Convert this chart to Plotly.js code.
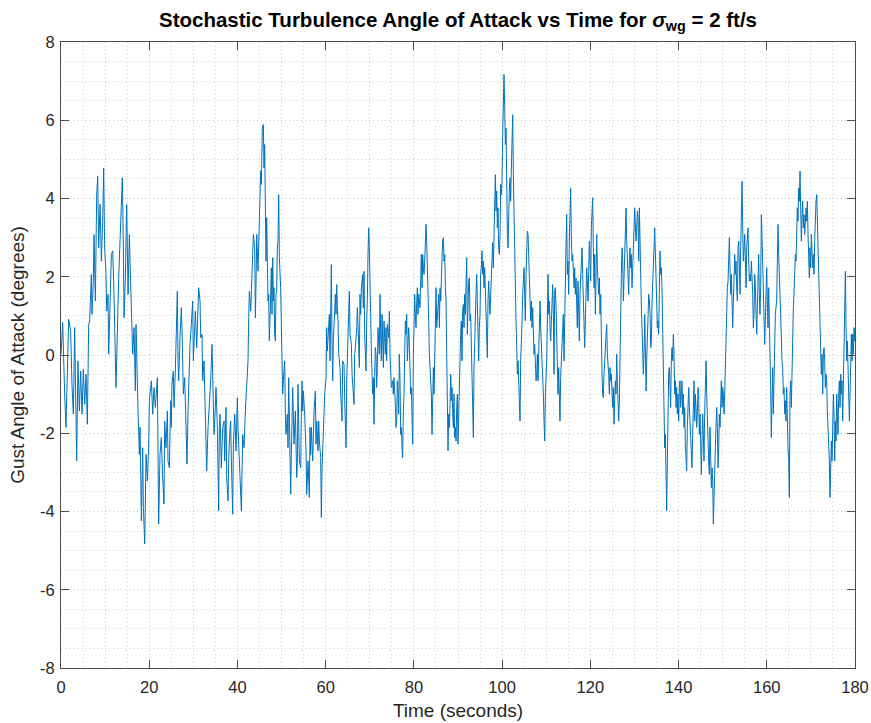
<!DOCTYPE html>
<html>
<head>
<meta charset="utf-8">
<script src="https://cdn.plot.ly/plotly-3.0.1.min.js"></script>
<style>html,body{margin:0;padding:0;background:#fff;}#chart{width:871px;height:723px;}</style>
</head>
<body>
<div id="chart"></div>
<script>
// Time (seconds) and gust angle of attack (degrees), in 8 segments
const t1 = [0.00,0.38,0.83,1.13,1.74,2.19,2.49,2.80,3.10,3.40,
3.55,3.85,4.16,4.46,4.76,5.06,5.37,5.67,5.97,6.27,
6.50,6.88,7.03,7.33,7.48,7.79,8.09,8.32,8.54,8.85,
9.15,9.45,9.68,9.90,10.20,10.36,10.66,10.81,11.11,11.42,
11.72,12.02,12.47,12.78,13.08,13.38,13.91,14.14,14.29,14.59,
14.89,15.20,15.50,15.65,15.95,16.25,16.56,16.86,17.01,17.31,
17.46,17.77,17.92,18.22,18.52,18.67,18.98,19.28,19.58,19.88,
20.03,20.49,20.79,21.09,21.39,21.85];
const a1 = [0.02,0.83,-1.00,-1.85,0.91,0.61,-0.75,-1.51,0.70,-1.69,
-2.71,-0.15,-1.43,-0.41,-1.51,-0.37,-1.26,-0.49,-1.77,0.78,
0.87,2.06,1.04,1.89,3.08,1.38,4.10,4.57,2.74,3.85,
2.40,3.42,4.78,2.74,2.06,1.12,1.55,0.02,1.72,2.57,
2.66,1.55,-0.83,1.12,1.97,2.91,4.53,2.74,0.95,1.97,
3.85,1.55,3.08,2.40,1.29,0.02,0.70,-0.92,0.78,-1.00,
-1.43,-2.54,-1.85,-4.24,-2.37,-3.90,-4.83,-2.54,-3.22,-2.28,
-1.17,-0.66,-1.51,-0.83,-1.34,-0.58];

const t2 = [22.14,22.44,22.75,23.05,23.35,23.50,23.80,24.11,24.26,24.56,
24.86,25.01,25.16,25.47,25.62,25.92,26.22,26.37,26.53,26.68,
26.98,27.28,27.43,27.74,28.04,28.34,28.57,28.79,28.95,29.10,
29.25,29.55,29.85,30.00,30.15,30.46,30.76,30.91,31.21,31.52,
31.67,31.97,32.12,32.42,32.73,33.03,33.33,33.63,33.93,34.24,
34.54,34.69,34.99,35.14,35.45,35.75,35.90,36.05,36.35,36.66,
36.96,37.11,37.41,37.56,37.87,38.02,38.32,38.47,38.62,38.92,
39.08,39.38,39.68,39.98,40.13,40.44,40.59,40.89,41.19,41.49,
41.80,42.10,42.40,42.55,42.70,43.01,43.31,43.61,43.91,44.07,
44.22,44.37];
const a2 = [-4.32,-2.54,-2.11,-3.13,-3.81,-1.69,-2.37,-1.43,-2.71,-2.88,
-1.17,-1.85,-0.75,-0.41,-1.34,-0.41,0.70,1.63,-0.15,-0.66,
0.44,1.21,0.70,-1.00,-0.58,-2.37,-2.79,-1.43,-0.83,-0.15,
0.27,0.78,1.38,-0.15,0.44,1.12,0.19,0.87,1.72,1.38,
0.44,0.53,-0.66,-0.15,-1.85,-2.96,-1.85,-1.34,-0.66,0.27,
-1.00,-2.03,-1.34,-0.83,-1.85,-3.98,-1.85,-1.51,-2.88,-1.85,
-1.69,-2.71,-1.34,-3.13,-3.73,-2.62,-1.85,-1.69,-2.71,-4.07,
-2.28,-1.51,-2.45,-1.09,-1.85,-2.71,-3.56,-3.98,-2.03,-2.37,
-1.43,-0.66,-0.15,0.95,1.63,1.12,1.89,3.08,2.74,0.95,
1.89,3.08];

const t3 = [44.66,44.89,45.11,45.26,45.42,45.64,45.87,46.02,46.17,46.32,
46.47,46.63,46.78,46.93,47.08,47.23,47.53,47.68,47.84,47.99,
48.14,48.29,48.44,48.59,48.74,48.89,49.04,49.20,49.35,49.50,
49.80,49.95,50.10,50.25,50.41,50.71,50.86,51.01,51.31,51.46,
51.62,51.77,51.92,52.07,52.22,52.52,52.67,52.82,53.13,53.43,
53.58,53.73,54.03,54.34,54.49,54.64,54.79,54.94,55.24,55.55,
55.70,56.00,56.30,56.45,56.60,56.76,57.06,57.36,57.66,57.81,
57.97,58.27,58.42,58.57,58.87,59.02,59.18,59.48,59.78,60.08,
60.23,60.38,60.54,60.84,60.99,61.14,61.29,61.44,61.59,61.75,
61.90,62.20,62.35,62.50,62.65,62.80,62.96,63.26,63.41,63.71,
63.86,64.16,64.32,64.62,64.77,64.92,65.22,65.37,65.53,65.83,
65.98,66.28,66.43,66.58,66.74,67.04,67.19];
const a3 = [2.14,3.08,4.02,4.70,4.36,5.80,5.89,4.78,5.38,3.93,
2.40,3.51,2.57,1.38,1.55,0.36,1.55,2.23,1.04,2.49,
1.38,1.72,0.53,0.36,1.55,1.63,2.74,2.91,4.10,2.49,
1.72,0.87,0.02,-1.00,-0.66,-0.15,-1.51,-2.03,-1.51,-2.37,
-0.58,-1.85,-2.71,-3.56,-2.54,-0.83,-1.51,-2.28,-1.43,-3.13,
-2.71,-0.75,-2.71,-2.88,-1.43,-0.66,-1.43,-0.92,-1.51,-2.45,
-3.56,-2.71,-3.64,-1.85,-2.54,-1.85,-2.71,-1.43,-0.92,-2.28,
-1.69,-2.45,-1.69,-2.20,-2.62,-4.15,-2.88,-1.85,-1.00,-0.58,
0.70,0.10,0.36,1.04,-0.15,1.38,2.31,0.27,-0.66,0.36,
0.87,1.55,1.04,1.80,1.21,0.87,0.02,-0.32,-1.00,-1.69,
-0.15,-0.24,-1.17,-2.37,-0.66,-0.15,0.70,1.63,0.53,0.27,
-0.49,-1.00,-1.26,0.02,0.19,0.70,1.21];

const t4 = [67.48,67.63,67.78,67.93,68.09,68.39,68.54,68.69,68.84,68.99,
69.14,69.30,69.45,69.60,69.75,69.90,70.05,70.20,70.35,70.51,
70.66,70.81,70.96,71.11,71.26,71.41,71.56,71.71,71.87,72.17,
72.32,72.47,72.62,72.77,72.92,73.08,73.23,73.38,73.53,73.68,
73.83,73.98,74.29,74.44,74.59,74.89,75.19,75.34,75.49,75.80,
75.95,76.10,76.25,76.40,76.55,76.70,76.86,77.01,77.16,77.31,
77.46,77.61,77.76,77.91,78.07,78.22,78.37,78.52,78.67,78.82,
78.97,79.12,79.27,79.43,79.58,79.73,79.88,80.03,80.18,80.33,
80.48,80.64,80.79,80.94,81.09,81.39,81.54,81.69,81.85,82.00,
82.15,82.30,82.45,82.60,82.75,82.90,83.05,83.21,83.36,83.51,
83.66,83.81,83.96,84.11,84.26,84.42,84.57,84.72,84.87,85.02,
85.17,85.32,85.47,85.63,85.78,85.93,86.08,86.23,86.38,86.53,
86.68,86.83,86.99,87.14,87.29,87.44,87.59,87.74,87.89,88.04,
88.20,88.35,88.50,88.65,88.80,88.95,89.10,89.25,89.41,89.56,
89.71,89.86];
const a4 = [0.27,-0.32,1.55,1.04,1.72,2.06,1.21,2.14,0.53,-0.15,
-0.41,0.87,1.38,2.57,3.25,2.74,1.55,0.53,0.19,-0.49,
-1.00,-0.58,-1.77,-0.58,0.19,0.02,-0.83,-0.32,0.70,0.02,
1.55,0.53,-0.15,1.04,0.53,-0.32,0.87,0.36,0.02,0.70,
-0.15,0.78,0.44,1.12,0.02,-0.83,-0.66,-1.00,-0.58,-1.26,
-1.85,-1.69,-0.66,-1.00,-1.51,0.02,-0.66,-2.03,-1.85,-2.37,
-2.62,-1.43,-1.00,0.02,0.87,0.53,1.04,-0.15,0.44,0.70,
0.27,-0.15,-1.00,-0.83,-1.85,-2.28,0.02,1.04,1.55,1.04,
0.70,1.38,1.72,1.04,1.55,1.21,2.40,2.57,1.72,2.57,
2.23,2.06,2.40,3.08,3.34,2.91,2.40,1.72,0.87,0.02,
-0.32,-0.83,-1.00,-2.03,-0.49,-0.32,-1.00,0.19,1.04,1.72,
0.70,1.04,1.38,1.55,0.70,1.72,1.38,2.23,2.49,2.91,
3.00,2.40,2.57,1.72,1.38,0.02,-1.00,-2.45,-1.51,-1.85,
-1.26,-0.49,-1.17,-0.83,-1.51,-1.85,-1.00,-2.11,-1.85,-2.20,
-1.34,-1.00];

const t5 = [90.00,90.15,90.30,90.60,90.76,90.91,91.06,91.21,91.36,91.51,
91.66,91.81,91.97,92.12,92.27,92.42,92.57,92.72,92.87,93.02,
93.18,93.33,93.48,93.63,93.78,93.93,94.08,94.23,94.38,94.54,
94.69,94.84,94.99,95.14,95.29,95.44,95.59,95.75,95.90,96.05,
96.20,96.35,96.50,96.65,96.80,96.96,97.11,97.26,97.41,97.56,
97.71,97.86,98.01,98.16,98.32,98.47,98.62,98.77,98.92,99.07,
99.22,99.37,99.53,99.68,99.83,99.98,100.13,100.28,100.43,100.58,
100.74,100.89,101.04,101.19,101.34,101.49,101.64,101.79,101.94,102.10,
102.25,102.40,102.55,102.70,102.85,103.00,103.15,103.31,103.46,103.61,
103.76,103.91,104.06,104.21,104.36,104.52,104.67,104.82,104.97,105.12,
105.27,105.42,105.57,105.72,105.88,106.03,106.18,106.33,106.48,106.63,
106.78,106.93,107.09,107.24,107.39,107.54,107.69,107.84,107.99,108.14,
108.30,108.45,108.60,108.75,108.90,109.05,109.20,109.35,109.50,109.66,
109.81,109.96,110.11,110.26,110.41,110.56,110.71,110.87,111.02,111.17,
111.32,111.47,111.62,111.77,111.92,112.07,112.23,112.38,112.53];
const a5 = [-2.28,-1.34,-0.49,0.53,0.87,-0.15,1.12,1.29,0.70,1.55,
1.04,2.40,2.49,0.53,1.38,1.89,1.97,0.87,1.04,0.27,
0.02,-1.00,-2.11,-0.32,0.53,0.70,1.55,2.06,1.04,0.19,
-0.15,0.70,1.04,2.06,2.23,2.66,2.06,2.40,1.72,2.23,
1.55,0.70,0.53,-0.07,1.38,1.89,1.38,1.04,1.55,1.89,
2.40,2.87,2.23,3.08,3.93,4.61,3.68,4.19,3.25,3.76,
2.74,2.57,3.08,4.36,4.10,4.44,5.63,6.31,7.17,6.40,
5.38,5.80,4.10,3.08,2.74,3.76,4.27,4.53,3.93,4.78,
5.55,6.14,4.61,3.42,2.74,1.38,0.87,0.19,-0.49,-0.15,
-0.83,-1.26,-1.69,-0.15,0.19,0.87,1.55,2.06,2.23,1.55,
0.87,2.06,2.74,3.17,3.08,2.40,1.55,1.04,0.87,1.38,
0.70,1.21,0.53,0.02,0.27,-0.32,-0.66,-0.49,0.02,-0.66,
0.19,0.87,1.38,0.70,0.36,-0.32,-0.66,-1.00,-1.69,-2.20,
-1.00,-0.66,-0.15,0.87,2.06,1.04,1.38,0.70,0.36,0.87,
1.55,1.80,1.04,-0.49,1.63,1.72,1.21,0.27,-0.32];

const t6 = [112.67,112.82,112.97,113.12,113.27,113.43,113.58,113.73,113.88,114.03,
114.18,114.33,114.48,114.64,114.79,114.94,115.09,115.24,115.39,115.54,
115.69,115.85,116.00,116.15,116.30,116.45,116.60,116.75,116.90,117.05,
117.21,117.36,117.51,117.66,117.81,117.96,118.11,118.26,118.42,118.57,
118.72,118.87,119.02,119.17,119.32,119.47,119.63,119.78,119.93,120.08,
120.23,120.38,120.53,120.68,120.84,120.99,121.14,121.29,121.44,121.59,
121.74,121.89,122.04,122.20,122.35,122.50,122.65,122.80,122.95,123.10,
123.25,123.41,123.56,123.71,123.86,124.01,124.16,124.31,124.46,124.61,
124.77,124.92,125.07,125.22,125.37,125.52,125.67,125.82,125.98,126.13,
126.28,126.43,126.58,126.73,126.88,127.03,127.19,127.34,127.49,127.64,
127.79,127.94,128.09,128.24,128.39,128.55,128.70,128.85,129.00,129.15,
129.30,129.45,129.60,129.76,129.91,130.06,130.21,130.36,130.51,130.66,
130.81,130.97,131.12,131.27,131.42,131.57,131.72,131.87,132.02,132.17,
132.33,132.48,132.63,132.78,132.93,133.08,133.23,133.38,133.54,133.69,
133.84,133.99,134.14,134.29,134.44,134.59,134.75,134.90,135.05,135.20];
const a6 = [-1.00,-0.32,-1.51,-1.69,-0.58,-0.15,0.19,0.53,1.04,-0.15,
1.21,1.72,2.74,3.59,2.06,2.40,1.55,2.91,3.93,4.27,
3.08,2.40,2.57,2.06,1.72,2.23,1.55,1.97,1.04,0.70,
1.89,1.04,0.36,1.55,1.89,2.57,2.74,2.06,1.21,0.70,
0.19,0.87,1.55,2.23,1.89,1.38,2.14,2.91,2.40,1.89,
3.25,3.93,4.02,2.74,1.72,2.57,1.04,2.06,3.08,2.23,
1.89,1.55,1.97,1.04,1.55,-0.15,-0.49,-1.00,-1.09,-0.49,
-0.15,0.02,0.53,0.78,0.02,-0.15,-0.49,-1.00,-0.32,-0.66,
-0.49,-1.00,-1.34,-0.83,-1.77,-1.17,-0.66,-1.00,0.02,-0.66,
-1.51,-1.69,-1.17,0.19,1.89,2.06,2.74,2.40,1.38,2.06,
2.40,2.74,3.76,2.91,2.40,1.89,1.55,2.40,2.74,2.23,
2.57,1.72,2.40,3.08,3.51,3.76,3.34,2.91,3.25,3.68,
3.51,2.40,3.76,2.57,1.89,1.21,0.70,-0.32,-0.49,0.02,
1.04,0.19,-0.92,-0.15,0.53,1.04,1.55,1.38,1.04,0.19,
0.36,1.38,1.72,2.06,2.74,3.25,2.57,2.06,1.21,0.70];

const t7 = [135.34,135.49,135.64,135.79,135.94,136.10,136.25,136.40,136.55,136.70,
136.85,137.00,137.15,137.31,137.46,137.61,137.76,137.91,138.06,138.21,
138.36,138.52,138.67,138.82,138.97,139.12,139.27,139.42,139.57,139.72,
139.88,140.03,140.18,140.33,140.48,140.63,140.78,140.93,141.09,141.24,
141.39,141.54,141.69,141.84,141.99,142.14,142.30,142.45,142.60,142.75,
142.90,143.05,143.20,143.35,143.50,143.66,143.81,143.96,144.11,144.26,
144.41,144.56,144.71,144.87,145.02,145.17,145.32,145.47,145.62,145.77,
145.92,146.08,146.23,146.38,146.53,146.68,146.83,146.98,147.13,147.28,
147.44,147.59,147.74,147.89,148.04,148.19,148.34,148.49,148.65,148.80,
148.95,149.10,149.25,149.40,149.55,149.70,149.86,150.01,150.16,150.31,
150.46,150.61,150.76,150.91,151.06,151.22,151.37,151.52,151.67,151.82,
151.97,152.12,152.27,152.43,152.58,152.73,152.88,153.03,153.18,153.33,
153.48,153.64,153.79,153.94,154.09,154.24,154.39,154.54,154.69,154.85,
155.00,155.15,155.30,155.45,155.60,155.75,155.90,156.05,156.21,156.36,
156.51,156.66,156.81,156.96,157.11,157.26,157.42,157.57,157.72,157.87];
const a7 = [0.87,0.53,1.55,2.66,2.06,2.23,1.72,0.87,-0.49,-1.51,
-2.37,-2.03,-3.39,-3.98,-2.71,-1.34,-0.49,-0.32,-1.00,-1.34,
-0.15,0.19,-0.15,0.53,0.02,-1.00,-0.66,-1.34,-0.83,-1.51,
-1.00,-1.69,-0.83,-0.66,-1.34,-1.00,-0.66,-1.51,-1.00,-1.85,
-1.34,-2.28,-2.54,-2.96,-1.85,-1.17,-0.83,-1.34,-1.85,-2.20,
-2.54,-2.88,-2.03,-1.00,-0.66,-1.69,-1.00,-1.34,-1.85,-1.51,
-0.83,-1.00,-2.03,-1.51,-2.54,-3.05,-2.20,-1.51,-2.03,-2.71,
-1.51,-0.83,-0.15,-1.00,-1.85,-2.20,-2.71,-3.05,-1.85,-2.54,
-3.39,-2.88,-3.22,-4.32,-3.39,-2.71,-2.37,-1.85,-1.34,-1.85,
-2.88,-2.37,-1.51,-1.85,-1.00,-0.66,-1.34,-0.83,-1.00,-1.51,
-1.00,-0.32,0.70,1.55,1.72,1.89,2.57,3.00,2.23,1.55,
2.06,1.38,0.70,1.38,1.89,2.57,2.06,2.40,1.72,1.38,
2.74,2.91,2.23,1.55,2.74,3.93,4.44,3.25,2.40,2.74,
3.08,2.40,1.72,2.74,3.08,3.25,2.40,1.89,2.06,1.89,
2.40,2.06,1.55,0.70,1.04,2.06,1.72,1.04,0.53,1.21];

const t8 = [158.01,158.16,158.31,158.46,158.61,158.77,158.92,159.07,159.22,159.37,
159.52,159.67,159.82,159.98,160.13,160.28,160.43,160.58,160.73,160.88,
161.03,161.19,161.34,161.49,161.64,161.79,161.94,162.24,162.39,162.55,
162.70,162.85,163.00,163.15,163.30,163.45,163.60,163.76,163.91,164.06,
164.21,164.36,164.51,164.66,164.81,164.97,165.12,165.27,165.42,165.57,
165.72,165.87,166.02,166.17,166.33,166.48,166.63,166.78,166.93,167.08,
167.23,167.38,167.54,167.69,167.84,167.99,168.14,168.29,168.44,168.59,
168.75,168.90,169.05,169.20,169.35,169.50,169.65,169.80,169.95,170.11,
170.26,170.41,170.56,170.71,170.86,171.01,171.16,171.32,171.47,171.62,
171.77,171.92,172.07,172.22,172.37,172.53,172.68,172.83,172.98,173.13,
173.28,173.43,173.58,173.73,173.89,174.04,174.19,174.34,174.49,174.64,
174.79,174.94,175.10,175.25,175.40,175.55,175.70,175.85,176.00,176.15,
176.31,176.46,176.61,176.76,176.91,177.06,177.21,177.36,177.52,177.67,
177.82,177.97,178.12,178.27,178.42,178.57,178.73,178.88,179.03,179.18,
179.33,179.48,179.63,179.79,179.94,180.00];
const a8 = [2.06,2.57,1.55,1.04,1.72,3.59,3.08,2.40,1.55,1.04,
0.27,0.87,1.55,2.23,1.38,0.70,1.72,1.04,0.02,-0.83,
-2.11,-1.00,-0.32,-1.51,-0.66,0.02,1.04,1.38,2.57,3.34,
2.57,2.23,1.55,1.04,0.02,-0.15,-0.32,-1.00,-0.83,-1.51,
-1.17,-1.69,-0.83,-1.85,-2.37,-2.71,-3.64,-1.00,-0.66,-1.34,
-0.15,0.53,1.21,1.55,2.06,2.57,2.40,3.08,3.76,3.42,
4.27,3.93,4.70,3.76,2.91,3.59,3.93,3.25,3.59,3.08,
3.42,3.76,3.42,3.93,3.08,2.40,1.97,2.74,2.23,3.08,
2.40,2.23,2.57,2.06,2.91,3.59,3.93,4.10,3.42,2.74,
2.06,1.55,0.70,-0.15,-0.49,0.02,-1.00,0.02,0.19,-0.15,
-0.83,-0.49,-0.66,-1.43,-1.85,-2.37,-2.71,-3.64,-3.05,-2.20,
-2.71,-1.85,-1.00,-1.51,-2.71,-1.69,-2.20,-1.00,-1.43,-2.03,
-1.00,-0.66,-1.34,-0.49,-1.00,-0.66,-1.69,-0.66,0.36,1.38,
2.14,0.70,-0.15,0.36,-0.66,-1.34,-1.69,-1.00,0.19,0.53,
-0.15,0.53,0.02,0.70,0.36,0.53];

const xTicks = [0, 20, 40, 60, 80, 100, 120, 140, 160, 180];
const yTicks = [-8, -6, -4, -2, 0, 2, 4, 6, 8];

const timeSec = [].concat(t1, t2, t3, t4, t5, t6, t7, t8);
const gustAoA = [].concat(a1, a2, a3, a4, a5, a6, a7, a8);

const FONT = 'Liberation Sans, Arial, Helvetica, sans-serif';
const axisCol = '#4d4d4d';
const gridDash = '1px,3px';

const trace = {
  x: timeSec, y: gustAoA, type: 'scatter', mode: 'lines',
  line: {color: '#0072BD', width: 1},
  hoverinfo: 'skip', showlegend: false
};

function axis(ticks, range, minorStep, title, standoff, labelGap) {
  return {
    range: range, tickmode: 'array', tickvals: ticks, ticktext: ticks.map(String),
    ticks: 'inside', ticklen: 8, tickwidth: 1, tickcolor: axisCol,
    showline: true, linecolor: axisCol, linewidth: 1, mirror: 'ticks',
    showgrid: true, gridcolor: '#c4c4c4', gridwidth: 1, griddash: gridDash,
    minor: {dtick: minorStep, showgrid: true, gridcolor: '#cfcfcf', gridwidth: 1, griddash: gridDash, ticks: ''},
    zeroline: false, fixedrange: true,
    ticklabelstandoff: labelGap,
    tickfont: {family: FONT, size: 16.5, color: '#262626'},
    title: {text: title, font: {family: FONT, size: 19, color: '#262626'}, standoff: standoff},
    automargin: false
  };
}

const layout = {
  width: 871, height: 723,
  margin: {l: 61, r: 16, t: 42, b: 55, pad: 0},
  paper_bgcolor: '#ffffff', plot_bgcolor: '#ffffff',
  font: {family: FONT, color: '#262626'},
  title: {
    text: '<b>Stochastic Turbulence Angle of Attack vs Time for <i>σ</i><sub>wg</sub> = 2 ft/s</b>',
    font: {family: FONT, size: 20.5, color: '#000000'},
    xref: 'paper', x: 0.5, xanchor: 'center',
    yref: 'container', y: 0.973, yanchor: 'middle'
  },
  xaxis: axis(xTicks, [0, 180], 5, 'Time (seconds)', 8, 4),
  yaxis: axis(yTicks, [-8, 8], 0.5, 'Gust Angle of Attack (degrees)', 10, 2),
  showlegend: false
};

Plotly.newPlot('chart', [trace], layout, {displayModeBar: false, staticPlot: true});
</script>
</body>
</html>
